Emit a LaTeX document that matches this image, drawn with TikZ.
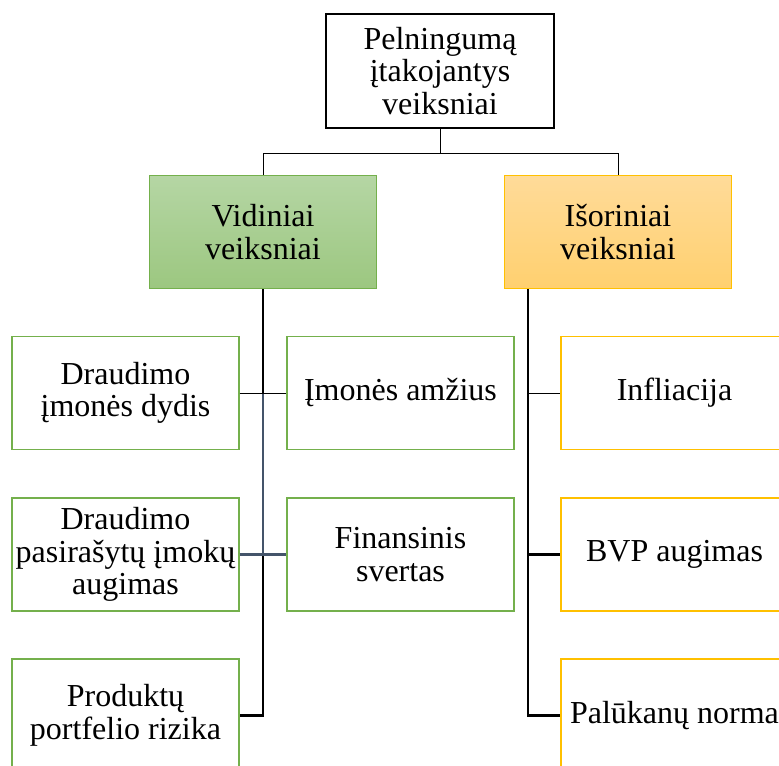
\documentclass[tikz,border=0pt]{standalone}
\usepackage{fontspec}
\setmainfont{Liberation Serif}
\usetikzlibrary{positioning}
\definecolor{vgreen}{HTML}{74B04C}
\definecolor{vgreentop}{HTML}{B5D6A4}
\definecolor{vgreenbot}{HTML}{9CC780}
\definecolor{iyellow}{HTML}{FFC000}
\definecolor{iyellowtop}{HTML}{FFDB99}
\definecolor{iyellowbot}{HTML}{FFD06F}
\definecolor{slate}{HTML}{44546A}
\tikzset{font=\fontsize{24}{24.5}\selectfont}
\tikzset{box/.style={minimum width=170.25pt, minimum height=84.75pt, inner sep=0pt, align=center, line width=1.1pt}}
\tikzset{rootbox/.style={box, draw=black, line width=1.9pt, minimum width=171pt, minimum height=85.5pt}}
\tikzset{vidbox/.style={box, draw=vgreen, top color=vgreentop, bottom color=vgreenbot}}
\tikzset{isobox/.style={box, draw=iyellow, top color=iyellowtop, bottom color=iyellowbot}}
\tikzset{vleaf/.style={box, draw=vgreen, fill=white}}
\tikzset{ileaf/.style={box, draw=iyellow, fill=white}}
\tikzset{twig/.style={line width=0.75pt}}
\tikzset{trunk/.style={line width=1.6pt}}

\begin{document}
\begin{tikzpicture}[x=0.75pt,y=-0.75pt]
  \clip (0,0) rectangle (779,765);
  \fill[white] (0,0) rectangle (779,765);

  \node[rootbox] (root) at (440,71) {Pelningumą\\įtakojantys\\veiksniai};
  \node[vidbox] (vid) at (263,232) {Vidiniai\\veiksniai};
  \node[isobox] (iso) at (618,232) {Išoriniai\\veiksniai};

  % vidiniai
  \node[vleaf] (dydis) at (125.5,393) {Draudimo\\įmonės dydis};
  \node[vleaf] (amzius) at (400.5,393) {Įmonės amžius};
  \node[vleaf] (imokos) at (125.5,554.5) {Draudimo\\pasirašytų įmokų\\augimas};
  \node[vleaf] (svertas) at (400.5,554.5) {Finansinis\\svertas};
  \node[vleaf] (rizika) at (125.5,715.5) {Produktų\\portfelio rizika};

  % isoriniai
  \node[ileaf] (infl) at (674.5,393) {Infliacija};
  \node[ileaf] (bvp) at (674.5,554.5) {BVP augimas};
  \node[ileaf] (palukanos) at (674.5,715.5) {Palūkanų norma};

  \coordinate (split) at ([yshift=-18pt]root.south);
  \coordinate (itrunk) at ([xshift=18pt]iso.south west);

  \draw[twig] (root.south) -- (split);
  \draw[twig] (vid.north) |- (split) -| (iso.north);

  \draw[trunk] (vid.south) |- (rizika.east);
  \draw[trunk, slate] (vid.south |- dydis.east) -- (vid.south |- imokos.east);
  \draw[twig] (dydis.east) -- (amzius.west);
  \draw[trunk, slate] (imokos.east) -- (svertas.west);

  \draw[trunk] (itrunk) |- (palukanos.west);
  \draw[twig] (itrunk |- infl.west) -- (infl.west);
  \draw[trunk] (itrunk |- bvp.west) -- (bvp.west);
\end{tikzpicture}
\end{document}
